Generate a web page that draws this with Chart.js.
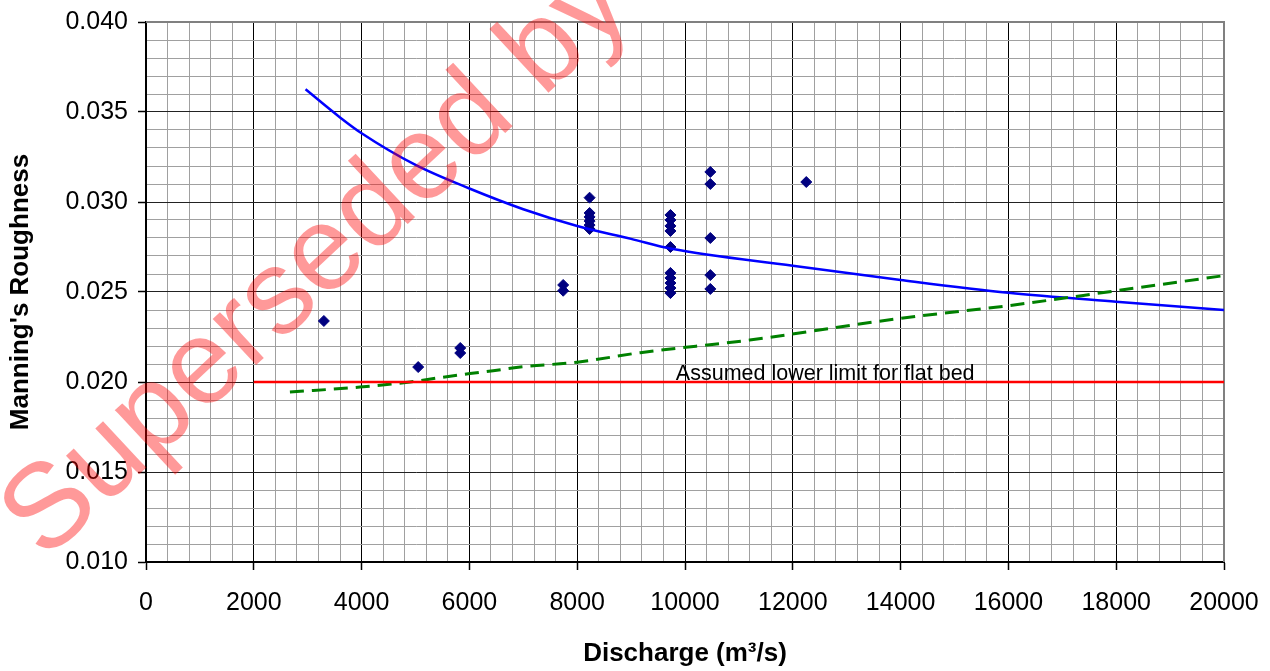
<!DOCTYPE html>
<html>
<head>
<meta charset="utf-8">
<script src="https://cdn.jsdelivr.net/npm/chart.js@4.4.1/dist/chart.umd.min.js"></script>
<style>
  body { margin: 0; background: #fff; }
  canvas { display: block; }
</style>
</head>
<body>
<canvas id="roughnessChart" width="1270" height="671"></canvas>
<script>
// observed roughness values
const obsDischarge = [3300, 5050, 5830, 5830, 7740, 7740,
    8230, 8230, 8230, 8230, 8230, 8230,
    9730, 9730, 9730, 9730, 9730, 9730, 9730, 9730, 9730, 9730,
    10470, 10470, 10470, 10470, 10470, 12250];
const obsRoughness = [0.02339, 0.02083, 0.02189, 0.02161, 0.02539, 0.02507,
    0.03024, 0.02939, 0.02917, 0.02894, 0.02872, 0.02850,
    0.02928, 0.02900, 0.02867, 0.02839, 0.02750, 0.02606, 0.02578, 0.02550, 0.02522, 0.02494,
    0.03167, 0.03100, 0.02800, 0.02594, 0.02517, 0.03111];

// fitted curve (blue)
const fitDischarge = [2960, 3600, 4000, 5000, 6000, 7000, 8000, 9000, 9750, 12000, 14000, 16000, 18000, 20000];
const fitRoughness = [0.03626, 0.03470, 0.03382, 0.03206, 0.03075, 0.02960, 0.02867, 0.02795, 0.02740, 0.02646, 0.02567, 0.02496, 0.02446, 0.02400];

// dashed green curve
const dashDischarge = [2670, 3970, 4900, 5490, 6010, 6440, 7000, 8000, 9170, 11200, 14000, 16000, 18000, 20000];
const dashRoughness = [0.01944, 0.01972, 0.02000, 0.02026, 0.02047, 0.02063, 0.02085, 0.02110, 0.02163, 0.02233, 0.02354, 0.02424, 0.02507, 0.02591];

// flat bed lower limit (red)
const limitDischarge = [2000, 20000];
const limitRoughness = [0.020, 0.020];
const limitLabel = 'Assumed lower limit for flat bed';
const limitLabelAt = [9830, 0.020];

const toXY = (xs, ys) => xs.map((x, i) => ({ x: x, y: ys[i] }));

Chart.defaults.font.family = "'Liberation Sans', Arial, sans-serif";
Chart.defaults.color = '#000';

const isMajorX = v => Math.round(v) % 2000 === 0;
const isMajorY = v => Math.round(v * 1000) % 5 === 0;

// gray frame on top/right, label and watermark
const extras = {
    id: 'extras',
    beforeDatasetsDraw(chart) {
        const { ctx, chartArea: a } = chart;
        ctx.save();
        ctx.strokeStyle = '#808080';
        ctx.lineWidth = 2;
        ctx.beginPath();
        ctx.moveTo(a.left, a.top);
        ctx.lineTo(a.right, a.top);
        ctx.lineTo(a.right, a.bottom);
        ctx.stroke();
        ctx.restore();
    },
    afterDatasetsDraw(chart) {
        const { ctx, scales } = chart;
        ctx.save();
        ctx.fillStyle = '#000';
        ctx.font = "21.5px 'Liberation Sans', Arial, sans-serif";
        ctx.textBaseline = 'alphabetic';
        ctx.fillText(limitLabel, scales.x.getPixelForValue(limitLabelAt[0]),
            scales.y.getPixelForValue(limitLabelAt[1]) - 2);
        ctx.restore();
    },
    afterDraw(chart) {
        const ctx = chart.ctx;
        ctx.save();
        ctx.translate(45, 562);
        ctx.rotate(-43 * Math.PI / 180);
        ctx.fillStyle = 'rgba(255, 0, 0, 0.4)';
        ctx.font = "120px 'Liberation Sans', Arial, sans-serif";
        ctx.textBaseline = 'alphabetic';
        ctx.fillText('Superseded by', 0, 0);
        ctx.restore();
    }
};

new Chart(document.getElementById('roughnessChart'), {
    type: 'scatter',
    data: {
        datasets: [
            {
                data: toXY(limitDischarge, limitRoughness),
                showLine: true,
                borderColor: '#FF0000',
                borderWidth: 2.5,
                pointRadius: 0
            },
            {
                data: toXY(dashDischarge, dashRoughness),
                showLine: true,
                borderColor: '#008000',
                borderWidth: 3,
                borderDash: [14, 8],
                pointRadius: 0,
                cubicInterpolationMode: 'monotone'
            },
            {
                data: toXY(fitDischarge, fitRoughness),
                showLine: true,
                borderColor: '#0000FF',
                borderWidth: 2.5,
                pointRadius: 0,
                cubicInterpolationMode: 'monotone'
            },
            {
                data: toXY(obsDischarge, obsRoughness),
                pointStyle: 'rectRot',
                pointRadius: 5.5,
                backgroundColor: '#000080',
                borderColor: '#000080',
                borderWidth: 1
            }
        ]
    },
    options: {
        responsive: false,
        animation: false,
        layout: { padding: { top: 22, right: 46, left: 0, bottom: 0 } },
        plugins: { legend: { display: false }, tooltip: { enabled: false } },
        scales: {
            x: {
                type: 'linear',
                min: 0,
                max: 20000,
                afterFit: s => { s.height = 109; s.paddingLeft = 0; s.paddingRight = 0; },
                border: { color: '#000', width: 2 },
                grid: {
                    color: c => isMajorX(c.tick.value) ? '#000' : '#a0a0a0',
                    lineWidth: 1,
                    tickLength: 8,
                    tickWidth: 1.5,
                    tickColor: c => isMajorX(c.tick.value) ? '#000' : 'rgba(0,0,0,0)'
                },
                ticks: {
                    stepSize: 400,
                    autoSkip: false,
                    maxRotation: 0,
                    padding: 18,
                    font: { size: 25 },
                    callback: v => isMajorX(v) ? String(Math.round(v)) : ''
                },
                title: {
                    display: true,
                    text: 'Discharge (m³/s)',
                    font: { size: 26, weight: 'bold' },
                    padding: { top: 0, bottom: 2 }
                }
            },
            y: {
                type: 'linear',
                min: 0.010,
                max: 0.040,
                afterFit: s => { s.width = 146; s.paddingTop = 0; s.paddingBottom = 0; },
                border: { color: '#000', width: 2 },
                grid: {
                    color: c => isMajorY(c.tick.value) ? '#222' : '#a0a0a0',
                    lineWidth: 1,
                    tickLength: 8,
                    tickWidth: 1.5,
                    tickColor: c => isMajorY(c.tick.value) ? '#000' : 'rgba(0,0,0,0)'
                },
                ticks: {
                    stepSize: 0.001,
                    autoSkip: false,
                    padding: 10,
                    font: { size: 25 },
                    callback: v => isMajorY(v) ? v.toFixed(3) : ''
                },
                title: {
                    display: true,
                    text: "Manning's Roughness",
                    font: { size: 26, weight: 'bold' },
                    padding: { top: 5, bottom: 0 }
                }
            }
        }
    },
    plugins: [extras]
});
</script>
</body>
</html>
